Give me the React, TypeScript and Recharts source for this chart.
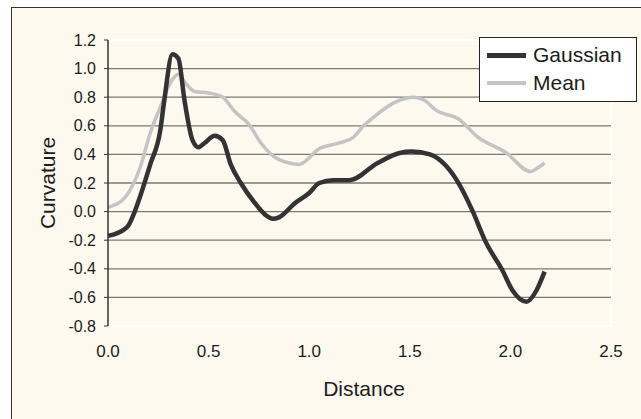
import { LineChart, Line, XAxis, YAxis, ReferenceLine, ReferenceArea } from "recharts";

// distance / curvature
const gaussianDistance = [0, 0.085, 0.1, 0.13, 0.17, 0.21, 0.26, 0.28, 0.32, 0.35, 0.38, 0.42, 0.45, 0.48, 0.53, 0.57, 0.61, 0.66, 0.73, 0.78, 0.82, 0.85, 0.93, 1.0, 1.05, 1.12, 1.2, 1.34, 1.45, 1.51, 1.6, 1.68, 1.75, 1.81, 1.88, 1.96, 2.01, 2.08, 2.13, 2.17];
const gaussianCurvature = [-0.17, -0.12, -0.1, -0.01, 0.15, 0.33, 0.57, 0.78, 1.1, 1.07, 0.78, 0.5, 0.45, 0.48, 0.53, 0.5, 0.33, 0.2, 0.06, -0.02, -0.05, -0.04, 0.06, 0.13, 0.2, 0.22, 0.22, 0.34, 0.41, 0.42, 0.4, 0.32, 0.18, 0.01, -0.22, -0.41, -0.55, -0.63, -0.55, -0.42];

const meanDistance = [0, 0.085, 0.16, 0.21, 0.26, 0.31, 0.35, 0.39, 0.43, 0.5, 0.57, 0.63, 0.7, 0.76, 0.82, 0.9, 0.95, 1.05, 1.15, 1.22, 1.27, 1.32, 1.42, 1.52, 1.57, 1.63, 1.75, 1.83, 1.98, 2.1, 2.14, 2.17];
const meanCurvature = [0.03, 0.1, 0.31, 0.55, 0.73, 0.9, 0.96, 0.89, 0.84, 0.83, 0.8, 0.7, 0.61, 0.48, 0.39, 0.34, 0.33, 0.44, 0.48, 0.52, 0.6, 0.66, 0.76, 0.8, 0.78, 0.71, 0.64, 0.53, 0.41, 0.28, 0.31, 0.34];

const xTicks = [0, 0.5, 1.0, 1.5, 2.0, 2.5];
const yTicks = [-0.8, -0.6, -0.4, -0.2, 0, 0.2, 0.4, 0.6, 0.8, 1.0, 1.2];

const gaussian = gaussianDistance.map((x, i) => ({ x, y: gaussianCurvature[i] }));
const mean = meanDistance.map((x, i) => ({ x, y: meanCurvature[i] }));

const FONT = "'Liberation Sans', Arial, sans-serif";
const TEXT = "#1c1c1c";

function LegendBox() {
  const row = (color: string, w: number, label: string) => (
    <div style={{ display: "flex", alignItems: "center", height: 28 }}>
      <div style={{ width: 39, height: w, background: color, marginRight: 7 }} />
      <span style={{ fontSize: 21, color: TEXT, fontFamily: FONT }}>{label}</span>
    </div>
  );
  return (
    <div style={{ position: "absolute", left: 479, top: 37, width: 149, height: 57, border: "1px solid #222", background: "#fff", padding: "3px 0 3px 7px" }}>
      {row("#333", 5, "Gaussian")}
      {row("#c4c4c4", 4, "Mean")}
    </div>
  );
}

export default function App() {
  return (
    <div style={{ position: "absolute", left: 0, top: 0, width: 641, height: 419, overflow: "hidden", background: "#fff", fontFamily: FONT }}>
      <div style={{ position: "absolute", left: 11, top: 7, width: 700, height: 500, border: "1.5px solid #333", background: "#fdf9ef" }} />
      <div style={{ position: "absolute", left: 0, top: 0 }}>
        <LineChart width={641} height={419} margin={{ top: 40, right: 30, bottom: 63, left: 48 }}>
          <ReferenceArea x1={0} x2={2.5} y1={-0.8} y2={1.2} fill="none" stroke="#fff" strokeWidth={2} />
          {yTicks.filter((v) => v > -0.8 && v < 1.2).map((v) => (
            <ReferenceLine key={v} y={v} stroke="#7a7a72" strokeWidth={1.3} />
          ))}
          <XAxis
            type="number"
            dataKey="x"
            domain={[0, 2.5]}
            ticks={xTicks}
            tickFormatter={(v: number) => v.toFixed(1)}
            axisLine={false}
            tickLine={false}
            tickSize={0}
            tickMargin={19}
            height={30}
            tick={{ fill: TEXT, fontSize: 17, fontFamily: FONT }}
            allowDuplicatedCategory={false}
          />
          <YAxis
            type="number"
            dataKey="y"
            domain={[-0.8, 1.2]}
            ticks={yTicks}
            tickFormatter={(v: number) => v.toFixed(1)}
            axisLine={{ stroke: "#333", strokeWidth: 1.5 }}
            tickLine={{ stroke: "#333" }}
            tickSize={4}
            tickMargin={8}
            width={60}
            tick={{ fill: TEXT, fontSize: 16, fontFamily: FONT }}
          />
          <Line data={mean} dataKey="y" type="monotone" stroke="#c4c4c4" strokeWidth={3.5} dot={false} isAnimationActive={false} />
          <Line data={gaussian} dataKey="y" type="monotone" stroke="#333" strokeWidth={4.5} dot={false} isAnimationActive={false} />
        </LineChart>
      </div>
      <LegendBox />
      <div style={{ position: "absolute", left: 48, top: 183, transform: "translate(-50%, -50%) rotate(-90deg)", fontSize: 21, color: TEXT, whiteSpace: "nowrap" }}>
        Curvature
      </div>
      <div style={{ position: "absolute", left: 364, top: 389, transform: "translate(-50%, -50%)", fontSize: 21, color: TEXT, whiteSpace: "nowrap" }}>
        Distance
      </div>
    </div>
  );
}
